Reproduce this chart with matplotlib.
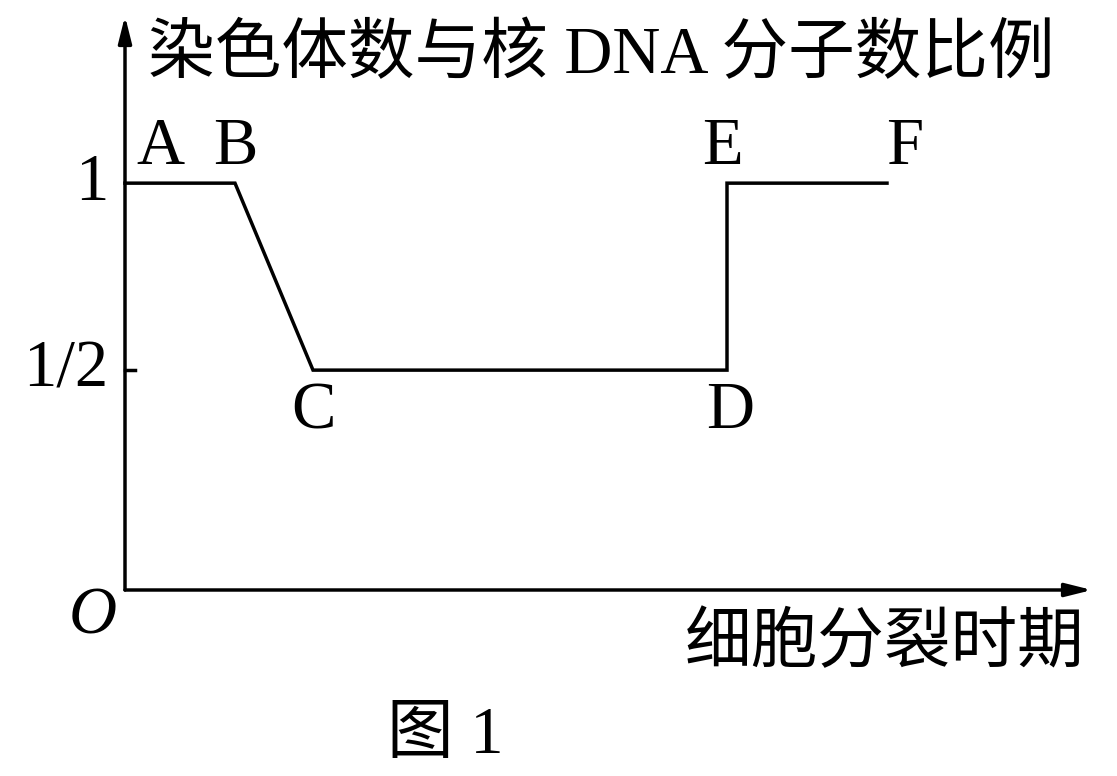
import matplotlib
matplotlib.use("Agg")
import matplotlib.pyplot as plt

plt.rcParams["font.family"] = ["Liberation Serif", "Noto Sans CJK SC"]

# =====================
# 数据：折线各拐点
# =====================
point_labels = ["A", "B", "C", "D", "E", "F"]
point_x = [0.0, 1.1, 1.88, 6.02, 6.02, 7.62]
point_y = [1.0, 1.0, 0.5, 0.5, 1.0, 1.0]

ytick_vals = [1.0, 0.5]
ytick_labels = ["1", "1/2"]

ylabel_text = "染色体数与核 DNA 分子数比例"
xlabel_text = "细胞分裂时期"
caption_text = "图 1"

W, H = 1117, 776
fig = plt.figure(figsize=(W / 100, H / 100), dpi=100)

# 坐标原点 (125, 590)，x 轴箭头到 1092，y 轴箭头到 16
ax = fig.add_axes([125 / W, (H - 590) / H, (1092 - 125) / W, (590 - 16) / H])
ax.set_xlim(0, 9.67)
ax.set_ylim(-0.088, 1.447)
for s in ax.spines.values():
    s.set_visible(False)
ax.set_xticks([])
ax.set_yticks([])

lw = 2.5
arrow = dict(arrowstyle="-|>,head_length=1.6,head_width=0.4", color="black", lw=lw,
             shrinkA=0, shrinkB=0)
ax.annotate("", xy=(1, 0), xytext=(0, 0), xycoords="axes fraction", arrowprops=arrow)
ax.annotate("", xy=(0, 1), xytext=(0, 0), xycoords="axes fraction", arrowprops=arrow)

# 折线
ax.plot(point_x, point_y, color="black", lw=lw, solid_joinstyle="miter", clip_on=False)

# 1/2 处的短刻度
ax.plot([0, 0.1], [0.5, 0.5], color="black", lw=lw, clip_on=False)

fs = 48
for v, lab in zip(ytick_vals, ytick_labels):
    ax.annotate(lab, xy=(0, v), xytext=(-12, 0), textcoords="offset points",
                ha="right", va="center", fontsize=fs)

# 拐点字母
offsets = {"A": (0.35, 4), "B": (0, 4), "C": (0, -8), "D": (0.03, -8), "E": (-0.04, 4), "F": (0.18, 4)}
for lab, x, y in zip(point_labels, point_x, point_y):
    dx, dy = offsets[lab]
    ax.annotate(lab, xy=(x + dx, y), xytext=(0, dy), textcoords="offset points",
                ha="center", va="bottom" if dy > 0 else "top", fontsize=fs)

ax.text(-0.08, -0.16, "O", fontsize=fs, style="italic", ha="right", va="center",
        family=["Liberation Serif"])

ax.text(0.23, 1.34, ylabel_text, fontsize=fs, ha="left", va="center")
ax.text(9.6, -0.235, xlabel_text, fontsize=fs, ha="right", va="center")
fig.text(445 / W, 1 - 736 / H, caption_text, fontsize=fs, ha="center", va="center")

fig.savefig("out.png", dpi=100)
